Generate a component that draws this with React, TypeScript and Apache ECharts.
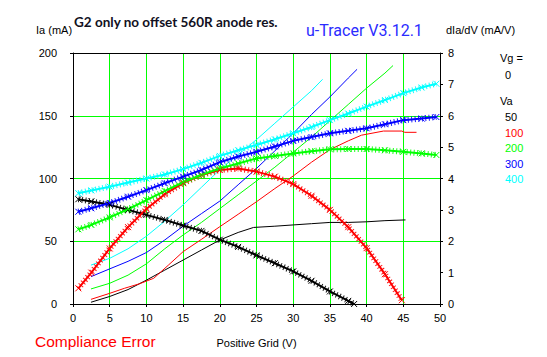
import { useEffect, useRef } from "react";
import * as echarts from "echarts";

// Grid voltage axis ticks
const xMin = 0;
const xMax = 50;
const xInterval = 5;
const iaMax = 200;
const iaInterval = 50;
const gmMax = 8;
const gmInterval = 1;

// Anode current Ia (mA) vs positive grid voltage, per Va
const ia50 = [[2.45, 1.4], [5, 6], [7.5, 11.5], [10, 19], [12.5, 27], [15, 35], [17.5, 43], [20, 51], [22.5, 57], [24.6, 61], [27.5, 62], [30, 63], [32.5, 64], [35, 65], [37.5, 65], [40, 65.5], [42.5, 66.4], [45.3, 67]];
const ia100 = [[2.45, 3.7], [5, 8.5], [7, 12.5], [9, 16], [11, 20.5], [13, 31], [15, 41.7], [17.5, 51.5], [20, 61.6], [22.5, 71.5], [25, 81.5], [27.5, 92], [30, 102], [32.5, 113], [35, 123], [37.5, 130], [39.3, 134.5], [42.3, 137.8], [44.8, 137.8], [45.2, 136.8], [46.8, 136.8]];
const ia200 = [[2.45, 12], [5, 16.5], [7.5, 23], [10, 32], [12.5, 44], [15, 55], [17.5, 65], [20, 76], [22.5, 87], [25, 98], [27.5, 109], [30, 121], [32.5, 133], [35, 146], [37.5, 159], [40, 172], [42.5, 184], [43.6, 190]];
const ia300 = [[2.45, 21.8], [5, 28], [7.5, 34], [10, 41], [12.5, 51], [15, 62], [17.5, 72], [20, 82], [22.5, 95], [25, 108], [27.5, 122], [30, 136], [32.5, 151], [35, 165], [37.5, 180], [38.7, 187]];
const ia400 = [[2.45, 31], [5, 36.4], [7.5, 44], [10, 54], [12.5, 66], [15, 79], [17.5, 93], [20, 107], [22.5, 119], [25, 131], [27.5, 144], [30, 157], [32.5, 170], [34, 179]];

// Transconductance dIa/dV (mA/V) vs positive grid voltage, per Va
const gm50 = [[0.73, 3.34], [2.5, 3.27], [5, 3.16], [7.5, 3.0], [10, 2.84], [12.5, 2.68], [15, 2.5], [17.5, 2.33], [20, 2.05], [22.5, 1.82], [25, 1.55], [27.5, 1.3], [30, 1.04], [32.5, 0.74], [35, 0.4], [37.5, 0.1], [38.3, 0]];
const gm100 = [[0.73, 0.5], [2.5, 1.0], [5, 1.77], [7.5, 2.45], [10, 3.03], [12.5, 3.5], [15, 3.85], [17.5, 4.11], [20, 4.27], [22.5, 4.32], [25, 4.22], [27.5, 4.06], [30, 3.82], [32.5, 3.45], [35, 3.0], [37.5, 2.45], [40, 1.78], [42.5, 0.95], [44.8, 0.12]];
const gm200 = [[0.73, 2.38], [2.5, 2.52], [5, 2.76], [7.5, 3.02], [10, 3.31], [12.5, 3.6], [15, 3.88], [17.5, 4.12], [20, 4.32], [22.5, 4.48], [25, 4.64], [27.5, 4.72], [30, 4.8], [32.5, 4.87], [35, 4.93], [37.5, 4.94], [40, 4.94], [42.5, 4.9], [45, 4.85], [47.5, 4.8], [49.5, 4.75]];
const gm300 = [[0.73, 2.94], [2.5, 3.05], [5, 3.22], [7.5, 3.42], [10, 3.63], [12.5, 3.85], [15, 4.06], [17.5, 4.27], [20, 4.52], [22.5, 4.7], [25, 4.85], [27.5, 5.02], [30, 5.2], [32.5, 5.32], [35, 5.44], [37.5, 5.52], [40, 5.6], [42.5, 5.73], [45, 5.86], [47.5, 5.91], [49.5, 5.96]];
const gm400 = [[0.73, 3.53], [2.5, 3.62], [5, 3.74], [7.5, 3.87], [10, 4.0], [12.5, 4.13], [15, 4.3], [17.5, 4.5], [20, 4.72], [22.5, 4.9], [25, 5.07], [27.5, 5.25], [30, 5.44], [32.5, 5.64], [35, 5.86], [37.5, 6.07], [40, 6.29], [42.5, 6.5], [45, 6.72], [47.5, 6.9], [49.5, 7.02]];

const vaLabels = ["50", "100", "200", "300", "400"];
const vaColors = ["#000000", "#ff0000", "#00ff00", "#0000ff", "#00ffff"];
const iaSets = [ia50, ia100, ia200, ia300, ia400];
const gmSets = [gm50, gm100, gm200, gm300, gm400];

const FONT = "'Liberation Sans', Arial, sans-serif";
const GRID_GREEN = "#00ff00";
const X_SYMBOL = "path://M0,0L8,8M8,0L0,8";

export default function App() {
  const ref = useRef<HTMLDivElement>(null);

  useEffect(() => {
    if (!ref.current) return;
    const chart = echarts.init(ref.current, null, { renderer: "svg" });

    const series: any[] = [];
    iaSets.forEach((d, i) => {
      series.push({
        name: "Ia " + vaLabels[i],
        type: "line",
        xAxisIndex: 0,
        yAxisIndex: 0,
        data: d,
        showSymbol: false,
        symbol: "none",
        lineStyle: { color: vaColors[i], width: 1 },
        z: 3,
      });
    });
    gmSets.forEach((d, i) => {
      series.push({
        name: "gm fuzz " + vaLabels[i],
        type: "line",
        xAxisIndex: 0,
        yAxisIndex: 1,
        data: d,
        symbol: "none",
        lineStyle: { color: vaColors[i], width: 6, type: [1, 2.5], opacity: 0.9 },
        z: 4,
      });
      series.push({
        name: "gm " + vaLabels[i],
        type: "line",
        xAxisIndex: 0,
        yAxisIndex: 1,
        data: d,
        symbol: X_SYMBOL,
        symbolSize: 6,
        itemStyle: { color: "none", borderColor: vaColors[i], borderWidth: 1 },
        lineStyle: { color: vaColors[i], width: 2 },
        z: 5,
      });
    });

    const legendTexts: any[] = vaLabels.map((t, i) => ({
      type: "text",
      x: 505,
      y: 117 + i * 15.5,
      style: { text: t, fill: vaColors[i], font: `11px ${FONT}`, textVerticalAlign: "middle" },
    }));

    chart.setOption({
      animation: false,
      backgroundColor: "#ffffff",
      grid: { left: 73, right: 107, top: 53, bottom: 53, containLabel: false },
      xAxis: [
        {
          type: "value",
          min: xMin,
          max: xMax,
          interval: xInterval,
          position: "bottom",
          name: "Positive Grid (V)",
          nameLocation: "middle",
          nameGap: 33,
          nameTextStyle: { color: "#000", fontSize: 11, fontFamily: FONT },
          axisLine: { show: true, onZero: false, lineStyle: { color: "#000", width: 1 } },
          axisTick: { show: true, length: 3, lineStyle: { color: "#000" } },
          axisLabel: { color: "#000", fontSize: 11, fontFamily: FONT, margin: 8 },
          splitLine: { show: true, showMinLine: false, showMaxLine: false, lineStyle: { color: GRID_GREEN, width: 1 } },
        },
        {
          type: "value",
          min: xMin,
          max: xMax,
          interval: xInterval,
          position: "top",
          axisLine: { show: true, onZero: false, lineStyle: { color: "#000", width: 1 } },
          axisTick: { show: false },
          axisLabel: { show: false },
          splitLine: { show: false },
        },
      ],
      yAxis: [
        {
          type: "value",
          min: 0,
          max: iaMax,
          interval: iaInterval,
          position: "left",
          axisLine: { show: true, onZero: false, lineStyle: { color: "#000", width: 1 } },
          axisTick: { show: true, length: 3, lineStyle: { color: "#000" } },
          axisLabel: { color: "#000", fontSize: 11, fontFamily: FONT, margin: 16 },
          splitLine: { show: true, showMinLine: false, showMaxLine: false, lineStyle: { color: GRID_GREEN, width: 1 } },
        },
        {
          type: "value",
          min: 0,
          max: gmMax,
          interval: gmInterval,
          position: "right",
          axisLine: { show: true, onZero: false, lineStyle: { color: "#000", width: 1 } },
          axisTick: { show: true, length: 3, lineStyle: { color: "#000" } },
          axisLabel: { color: "#000", fontSize: 11, fontFamily: FONT, margin: 8 },
          splitLine: { show: false },
        },
      ],
      graphic: [
        {
          type: "text",
          x: 74,
          y: 22,
          style: { text: "G2 only no offset 560R anode res.", fill: "#111122", font: `bold 13.5px Lato, ${FONT}`, textVerticalAlign: "middle" },
        },
        {
          type: "text",
          x: 306,
          y: 30,
          style: { text: "u-Tracer V3.12.1", fill: "#2b2bff", font: `16px 'Comic Sans MS', Roboto, sans-serif`, textVerticalAlign: "middle" },
        },
        {
          type: "text",
          x: 36,
          y: 30,
          style: { text: "Ia (mA)", fill: "#000", font: `11px ${FONT}`, textVerticalAlign: "middle" },
        },
        {
          type: "text",
          x: 446,
          y: 30,
          style: { text: "dIa/dV (mA/V)", fill: "#000", font: `11px ${FONT}`, textVerticalAlign: "middle" },
        },
        {
          type: "text",
          x: 500,
          y: 58,
          style: { text: "Vg =", fill: "#000", font: `11px ${FONT}`, textVerticalAlign: "middle" },
        },
        {
          type: "text",
          x: 505,
          y: 75,
          style: { text: "0", fill: "#000", font: `11px ${FONT}`, textVerticalAlign: "middle" },
        },
        {
          type: "text",
          x: 500,
          y: 101,
          style: { text: "Va", fill: "#000", font: `11px ${FONT}`, textVerticalAlign: "middle" },
        },
        ...legendTexts,
        {
          type: "text",
          x: 35,
          y: 341,
          style: { text: "Compliance Error", fill: "#ff0000", font: `15.5px ${FONT}`, textVerticalAlign: "middle" },
        },
      ],
      series,
    });

    return () => chart.dispose();
  }, []);

  return (
    <div
      ref={ref}
      style={{ position: "absolute", left: 0, top: 0, width: 547, height: 357, background: "#fff" }}
    />
  );
}
